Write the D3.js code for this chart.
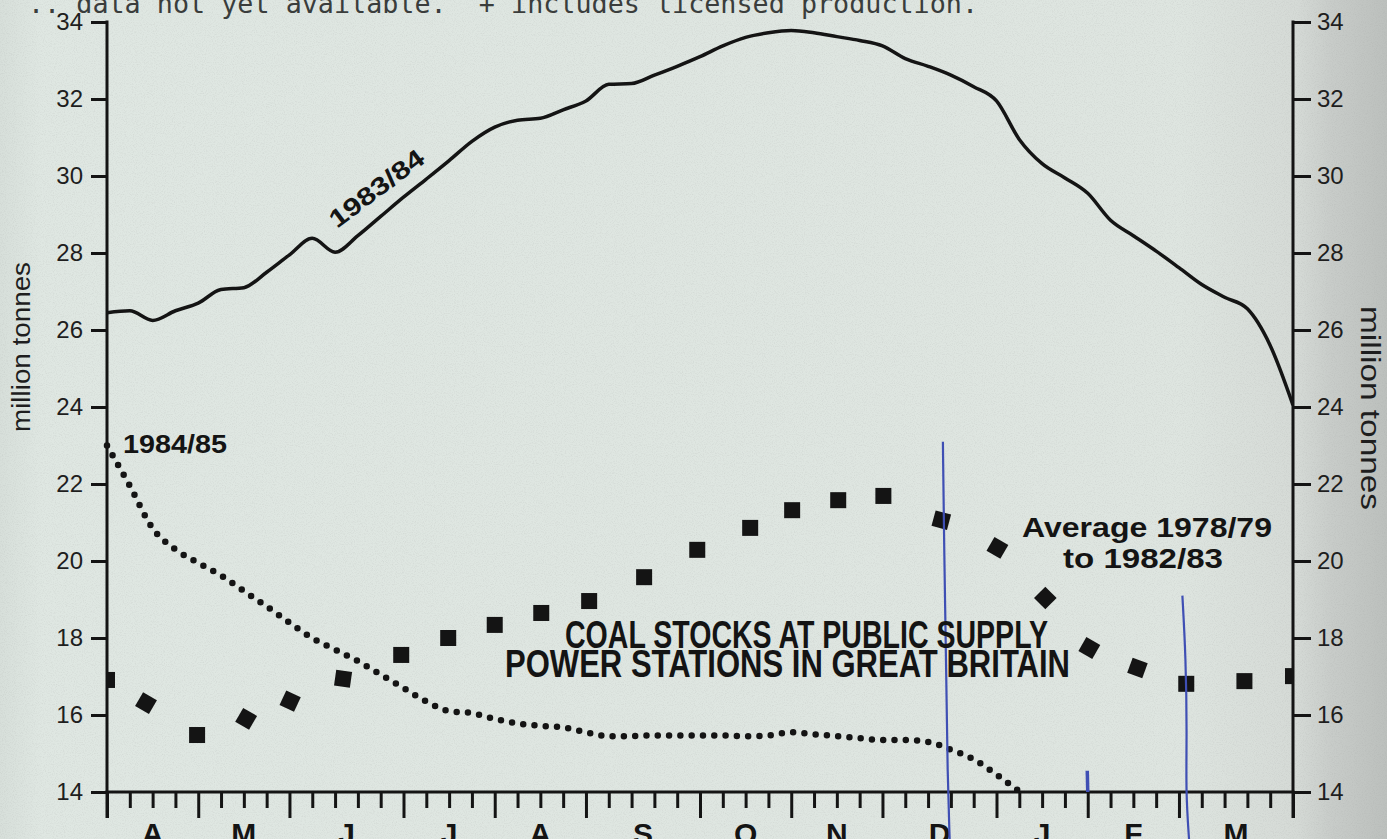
<!DOCTYPE html>
<html>
<head>
<meta charset="utf-8">
<script src="https://cdn.jsdelivr.net/npm/d3@7"></script>
<style>
  html, body { margin: 0; padding: 0; background: #dfe7e2; overflow: hidden; }
  svg { display: block; }
</style>
</head>
<body>
<svg id="chart" width="1387" height="839"></svg>
<script>
// weekly stocks, million tonnes (week 0 = start of April)
var stocks8384 = [26.45, 26.5, 26.25, 26.5, 26.7, 27.05, 27.1, 27.5, 27.95, 28.38,
  28.02, 28.45, 28.95, 29.45, 29.92, 30.4, 30.9, 31.27, 31.45, 31.5,
  31.72, 31.95, 32.38, 32.4, 32.62, 32.85, 33.1, 33.38, 33.6, 33.72,
  33.78, 33.72, 33.62, 33.52, 33.38, 33.05, 32.85, 32.62, 32.32, 31.95,
  30.95, 30.32, 29.95, 29.55, 28.85, 28.45, 28.05, 27.62, 27.18, 26.85,
  26.55, 25.6, 24.05];

var stocks8485 = [23.0, 21.95, 20.85, 20.3, 19.95, 19.62, 19.22, 18.82, 18.4, 18.0,
  17.7, 17.4, 17.05, 16.7, 16.35, 16.1, 16.05, 15.9, 15.78, 15.72,
  15.68, 15.55, 15.45, 15.45, 15.47, 15.47, 15.47, 15.47, 15.45, 15.47,
  15.55, 15.5, 15.45, 15.4, 15.35, 15.35, 15.3, 15.1, 14.85, 14.45, 14.02];

// average 1978/79 to 1982/83, plotted roughly fortnightly
var avgWeek = [0, 1.71, 3.95, 6.1, 8.03, 10.35, 12.9, 14.96, 17.0, 19.04, 21.14, 23.55,
  25.88, 28.2, 30.04, 32.06, 34.04, 36.58, 39.04, 41.14, 43.07, 45.18, 47.32, 49.87, 52];
var avgValue = [16.91, 16.31, 15.48, 15.9, 16.36, 16.94, 17.56, 18.0, 18.34, 18.65, 18.96, 19.58,
  20.29, 20.86, 21.32, 21.58, 21.69, 21.06, 20.34, 19.04, 17.74, 17.22, 16.81, 16.88, 17.01];
var avgTilt = [0, 30, 0, 30, 25, 8, 0, 0, 0, 0, 0, 0, 0, 0, 0, 0, 0, 15, 30, 45, 30, 20, 0, 0, 0];

var months = ["A", "M", "J", "J", "A", "S", "O", "N", "D", "J", "F", "M"];
var monthStart = [0, 4, 8, 13, 17, 21, 26, 30, 34, 39, 43, 47, 52];
var yTicks = [14, 16, 18, 20, 22, 24, 26, 28, 30, 32, 34];

var ink = "#141414";
var svg = d3.select("#chart");

var x = d3.scaleLinear().domain([0, 52]).range([107, 1293]);
var y = d3.scaleLinear().domain([14, 34]).range([792, 22]);

// paper
var defs = svg.append("defs");
var grad = defs.append("linearGradient").attr("id", "paper");
grad.append("stop").attr("offset", "0").attr("stop-color", "#d7dfda");
grad.append("stop").attr("offset", "0.03").attr("stop-color", "#dfe7e2");
grad.append("stop").attr("offset", "0.85").attr("stop-color", "#dee5e0");
grad.append("stop").attr("offset", "0.935").attr("stop-color", "#d5dad6");
grad.append("stop").attr("offset", "0.96").attr("stop-color", "#c8ccc9");
grad.append("stop").attr("offset", "1").attr("stop-color", "#bcc0bd");
svg.append("rect").attr("width", 1387).attr("height", 839).attr("fill", "url(#paper)");

var noise = defs.append("filter").attr("id", "grain");
noise.append("feTurbulence").attr("type", "fractalNoise").attr("baseFrequency", 0.9).attr("numOctaves", 2).attr("seed", 3);
noise.append("feColorMatrix").attr("values", "0 0 0 0 0.3  0 0 0 0 0.3  0 0 0 0 0.3  0 0 0 -1.8 1.0");
svg.append("rect").attr("width", 1387).attr("height", 839).attr("filter", "url(#grain)").attr("opacity", 0.18);

defs.append("clipPath").attr("id", "plot")
  .append("rect").attr("x", x(0)).attr("y", 0).attr("width", x(52) - x(0)).attr("height", y(14));

// note line, cut off at the top of the page
svg.append("text")
  .attr("x", 28).attr("y", 13)
  .attr("font-family", "DejaVu Sans Mono, Liberation Mono, monospace")
  .attr("font-size", 26).attr("fill", "#3a3d3c")
  .attr("textLength", 950).attr("lengthAdjust", "spacingAndGlyphs")
  .attr("xml:space", "preserve")
  .text(".. data not yet available.  + includes licensed production.");

// axes
function styleAxis(g) {
  g.select(".domain").remove();
  g.selectAll(".tick line").attr("stroke", ink).attr("stroke-width", 3);
  g.selectAll(".tick text").attr("fill", "#1e1e1e")
    .attr("font-family", "Liberation Sans, Arial, sans-serif").attr("font-size", 24);
}

svg.append("g").attr("transform", "translate(" + x(0) + ",0)")
  .call(d3.axisLeft(y).tickValues(yTicks).tickSize(16).tickPadding(8).tickSizeOuter(0))
  .call(styleAxis);

svg.append("g").attr("transform", "translate(" + x(52) + ",0)")
  .call(d3.axisRight(y).tickValues(yTicks).tickSize(18).tickPadding(6).tickSizeOuter(0))
  .call(styleAxis);

var xAxis = svg.append("g").attr("transform", "translate(0," + y(14) + ")")
  .call(d3.axisBottom(x).tickValues(d3.range(0, 53)).tickSize(16).tickFormat("").tickSizeOuter(0))
  .call(styleAxis);
xAxis.selectAll(".tick line")
  .filter(function(d) { return monthStart.indexOf(d) >= 0; })
  .attr("y2", 26);

svg.append("line").attr("x1", x(0)).attr("x2", x(0)).attr("y1", y(34) - 1.5).attr("y2", y(14) + 26)
  .attr("stroke", ink).attr("stroke-width", 3);
svg.append("line").attr("x1", x(52)).attr("x2", x(52)).attr("y1", y(34) - 1.5).attr("y2", y(14) + 26)
  .attr("stroke", ink).attr("stroke-width", 3);
svg.append("line").attr("x1", x(0) - 1.5).attr("x2", x(52) + 1.5).attr("y1", y(14)).attr("y2", y(14))
  .attr("stroke", ink).attr("stroke-width", 3);

svg.append("g").selectAll("text")
  .data(months)
  .enter().append("text")
  .attr("x", function(d, i) { return x((monthStart[i] + monthStart[i + 1]) / 2); })
  .attr("y", 844)
  .attr("text-anchor", "middle")
  .attr("font-family", "Liberation Sans, Arial, sans-serif")
  .attr("font-weight", "bold").attr("font-size", 30).attr("fill", ink)
  .text(function(d) { return d; });

svg.append("text")
  .attr("transform", "translate(30,347) rotate(-90)")
  .attr("text-anchor", "middle")
  .attr("font-family", "Liberation Sans, Arial, sans-serif")
  .attr("font-size", 26).attr("fill", "#1e1e1e")
  .attr("textLength", 170).attr("lengthAdjust", "spacingAndGlyphs")
  .text("million tonnes");

svg.append("text")
  .attr("transform", "translate(1361,408) rotate(90)")
  .attr("text-anchor", "middle")
  .attr("font-family", "Liberation Sans, Arial, sans-serif")
  .attr("font-size", 27).attr("fill", "#1e1e1e")
  .attr("textLength", 204).attr("lengthAdjust", "spacingAndGlyphs")
  .text("million tonnes");

// series
var plot = svg.append("g").attr("clip-path", "url(#plot)");

var line = d3.line()
  .x(function(d, i) { return x(i); })
  .y(function(d) { return y(d); })
  .curve(d3.curveMonotoneX);

plot.append("path")
  .datum(stocks8384)
  .attr("d", line)
  .attr("fill", "none").attr("stroke", ink).attr("stroke-width", 3.5)
  .attr("stroke-linejoin", "round");

svg.append("path")
  .datum(stocks8485)
  .attr("d", line)
  .attr("fill", "none").attr("stroke", ink).attr("stroke-width", 6.5)
  .attr("stroke-linecap", "round").attr("stroke-dasharray", "0 11.3");

plot.selectAll(".avg")
  .data(avgWeek)
  .enter().append("rect")
  .attr("class", "avg")
  .attr("x", -8).attr("y", -8).attr("width", 16).attr("height", 16)
  .attr("transform", function(d, i) {
    return "translate(" + x(d) + "," + y(avgValue[i]) + ") rotate(" + avgTilt[i] + ")";
  })
  .attr("fill", ink);

// blue pen marks on the copy
var pen = d3.line().x(function(d) { return x(d[0]); }).y(function(d) { return y(d[1]); }).curve(d3.curveBasis);
var penMarks = [
  [[36.65, 23.1], [36.7, 20.5], [36.8, 17.0], [36.85, 14.5], [36.95, 12.7]],
  [[47.15, 19.1], [47.3, 17.5], [47.35, 15.5], [47.3, 14.0], [47.45, 12.7]],
  [[42.98, 14.55], [43.0, 14.0]]
];
svg.selectAll(".pen")
  .data(penMarks)
  .enter().append("path")
  .attr("class", "pen")
  .attr("d", pen)
  .attr("fill", "none").attr("stroke", "#3f4fb4").attr("stroke-width", function(d, i) { return i == 2 ? 3.5 : 2.2; });

// labels
var bold = "Liberation Sans, Arial, Helvetica, sans-serif";

svg.append("text")
  .attr("transform", "translate(337,229) rotate(-37)")
  .attr("font-family", bold).attr("font-weight", "bold").attr("font-size", 25).attr("fill", ink)
  .attr("textLength", 112).attr("lengthAdjust", "spacingAndGlyphs")
  .text("1983/84");

svg.append("text")
  .attr("x", 123).attr("y", 453)
  .attr("font-family", bold).attr("font-weight", "bold").attr("font-size", 25).attr("fill", ink)
  .attr("textLength", 104).attr("lengthAdjust", "spacingAndGlyphs")
  .text("1984/85");

svg.append("text")
  .attr("x", 1022).attr("y", 537)
  .attr("font-family", bold).attr("font-weight", "bold").attr("font-size", 27).attr("fill", ink)
  .attr("textLength", 250).attr("lengthAdjust", "spacingAndGlyphs")
  .text("Average 1978/79");

svg.append("text")
  .attr("x", 1063).attr("y", 568)
  .attr("font-family", bold).attr("font-weight", "bold").attr("font-size", 27).attr("fill", ink)
  .attr("textLength", 160).attr("lengthAdjust", "spacingAndGlyphs")
  .text("to 1982/83");

var narrow = "Liberation Sans Narrow, Arial Narrow, Liberation Sans, sans-serif";
svg.append("text")
  .attr("x", 565).attr("y", 648)
  .attr("font-family", narrow).attr("font-weight", "bold").attr("font-size", 38).attr("fill", ink)
  .attr("textLength", 483).attr("lengthAdjust", "spacingAndGlyphs")
  .text("COAL STOCKS AT PUBLIC SUPPLY");

svg.append("text")
  .attr("x", 505).attr("y", 677)
  .attr("font-family", narrow).attr("font-weight", "bold").attr("font-size", 38).attr("fill", ink)
  .attr("textLength", 565).attr("lengthAdjust", "spacingAndGlyphs")
  .text("POWER STATIONS IN GREAT BRITAIN");
</script>
</body>
</html>
